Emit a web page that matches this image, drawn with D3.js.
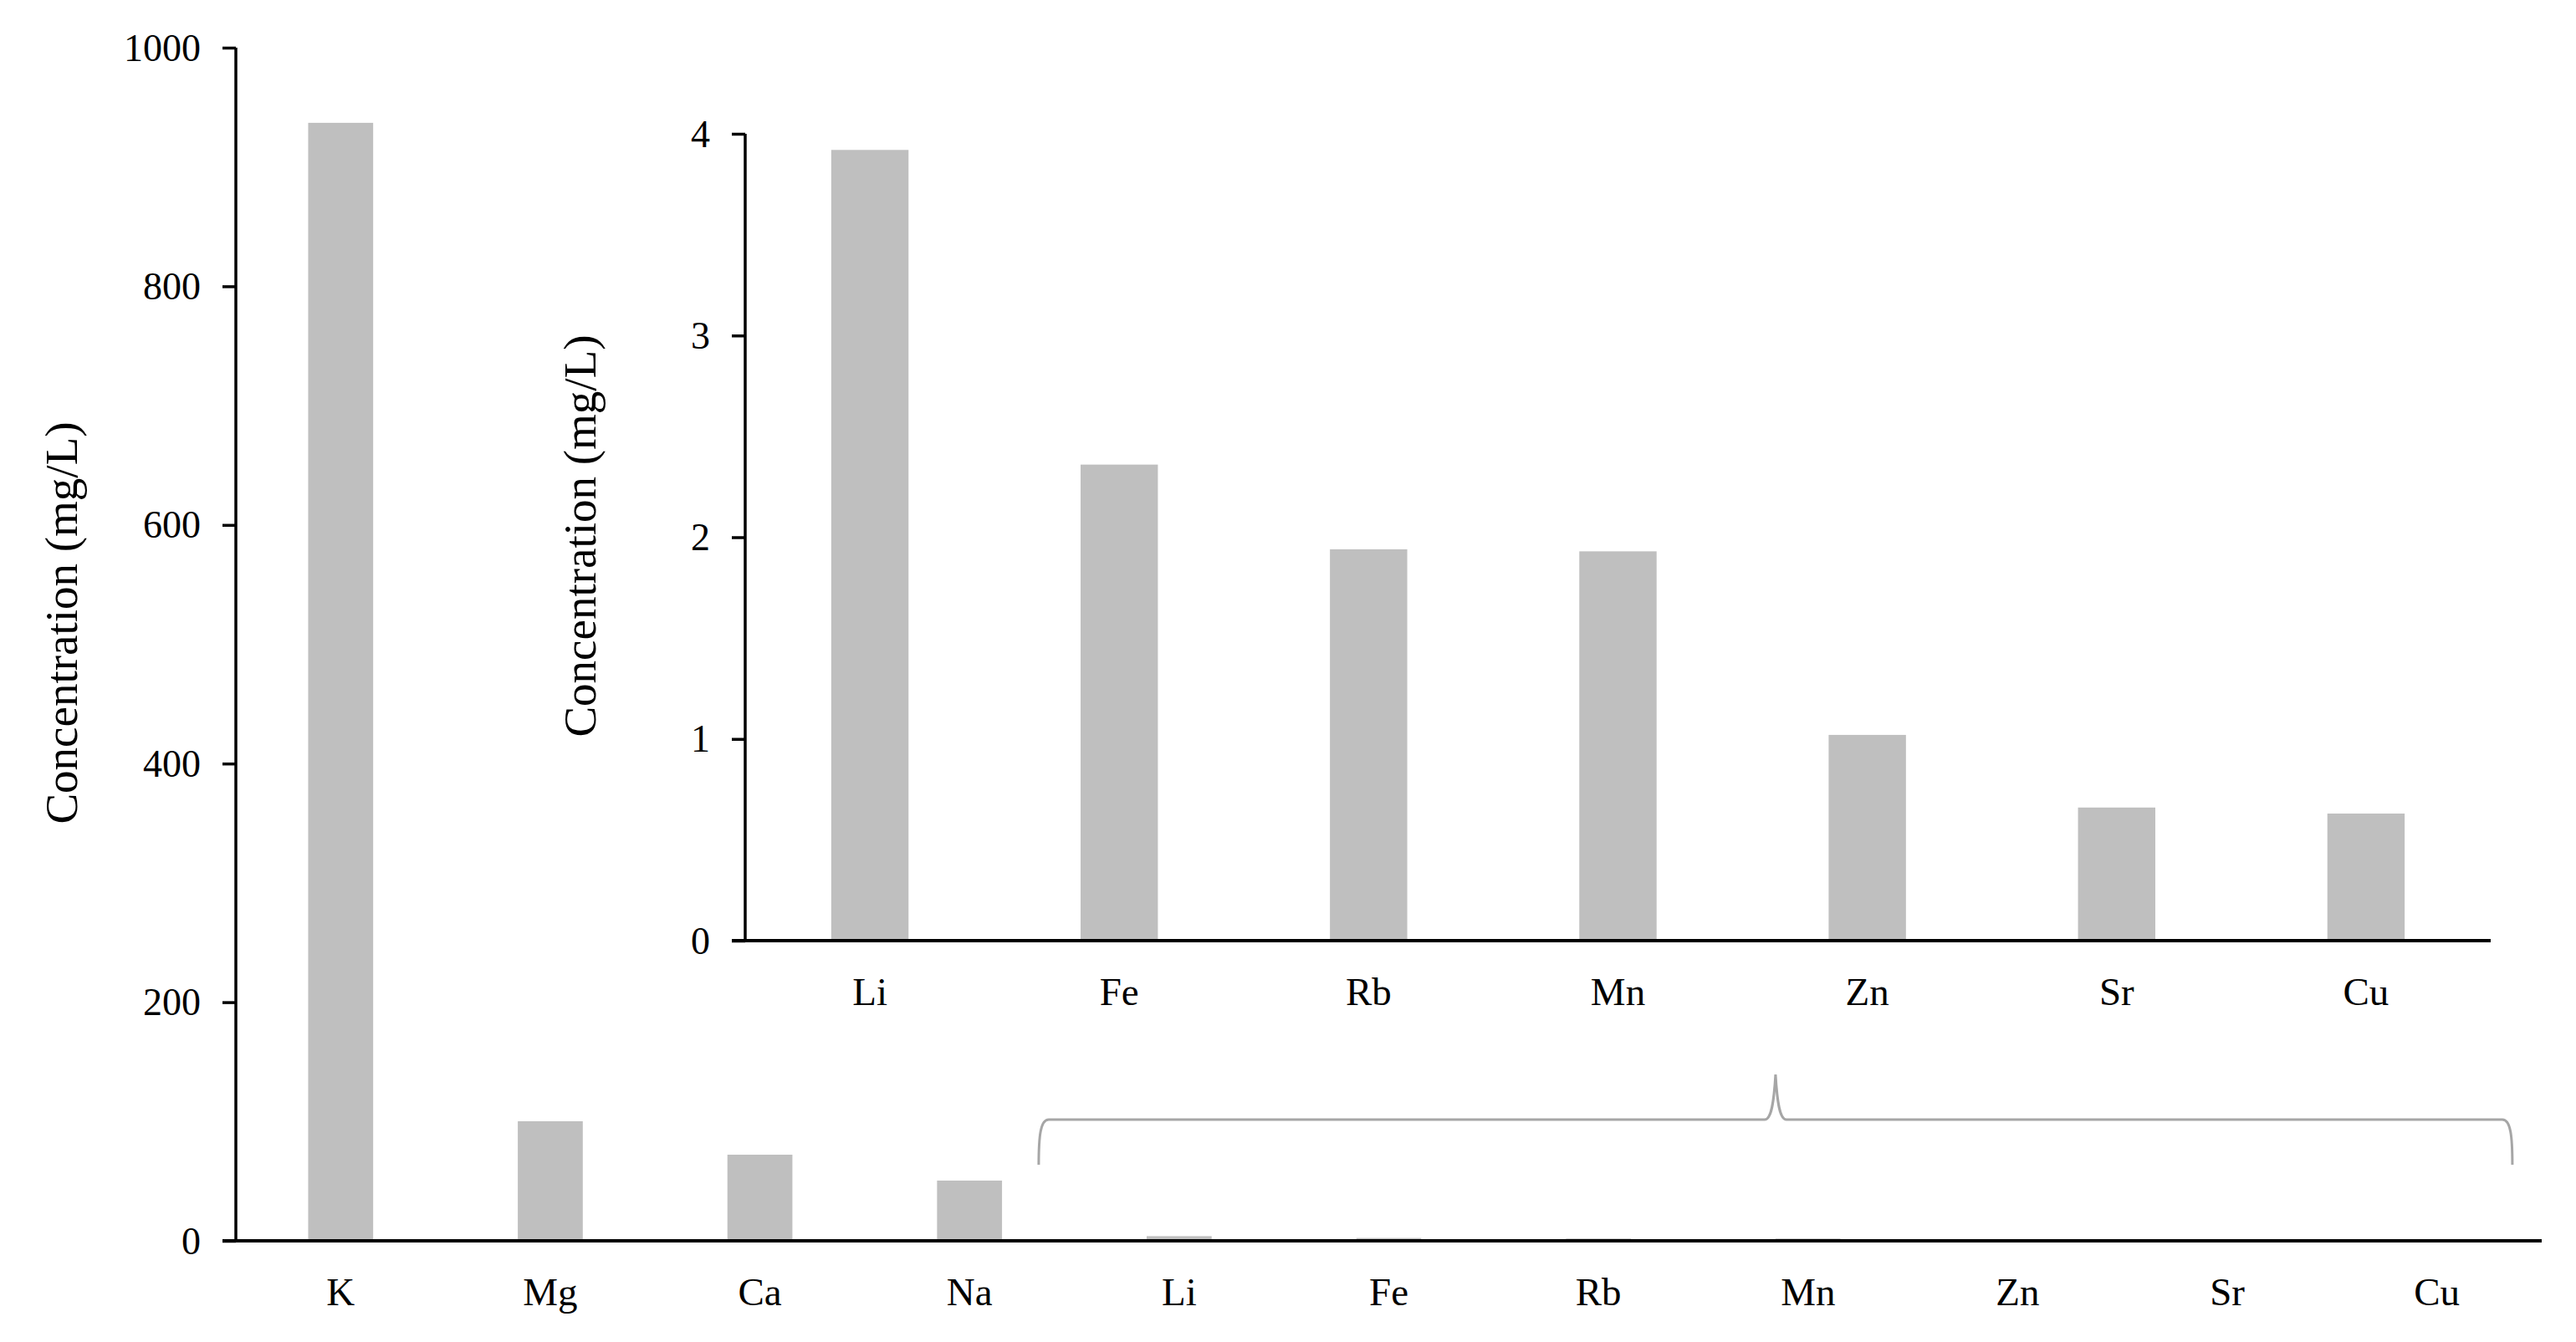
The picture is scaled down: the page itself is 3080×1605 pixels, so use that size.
<!DOCTYPE html>
<html>
<head>
<meta charset="utf-8">
<script src="https://cdn.jsdelivr.net/npm/d3@7"></script>
<style>
  body { margin: 0; background: #fff; }
  text { font-family: "Liberation Serif", "Times New Roman", serif; fill: #000; }
  .axis path, .axis line { stroke: #000; }
  .bar { fill: #bfbfbf; }
  .brace { fill: none; stroke: #a6a6a6; stroke-width: 3; }
</style>
</head>
<body>
<div id="chart"></div>
<script>
// major elements (mg/L)
var mainElements = ["K", "Mg", "Ca", "Na", "Li", "Fe", "Rb", "Mn", "Zn", "Sr", "Cu"];
var mainValues = [937, 100.2, 72.2, 50.5, 3.92, 2.36, 1.94, 1.93, 1.02, 0.66, 0.63];
var mainTicks = [0, 200, 400, 600, 800, 1000];

// trace elements shown in the inset (mg/L)
var insetElements = ["Li", "Fe", "Rb", "Mn", "Zn", "Sr", "Cu"];
var insetValues = [3.92, 2.36, 1.94, 1.93, 1.02, 0.66, 0.63];
var insetTicks = [0, 1, 2, 3, 4];

var yLabel = "Concentration (mg/L)";

var W = 3080, H = 1605;

var svg = d3.select("#chart").append("svg")
    .attr("width", W)
    .attr("height", H);

/* draw one bar panel; geometry in absolute page pixels */
function drawPanel(geom, cats, vals, ticks, domainMax) {
  var x = d3.scaleBand().domain(cats)
      .range([geom.x0, geom.x1])
      .paddingInner(0.69).paddingOuter(0.345);
  var y = d3.scaleLinear().domain([0, domainMax]).range([geom.y0, geom.y1]);

  var data = cats.map(function(c, i) { return {name: c, v: vals[i]}; });

  svg.append("g").selectAll("rect")
      .data(data)
    .enter().append("rect")
      .attr("class", "bar")
      .attr("x", function(d) { return x(d.name); })
      .attr("width", x.bandwidth())
      .attr("y", function(d) { return y(d.v); })
      .attr("height", function(d) { return geom.y0 - y(d.v); });

  var yAxis = d3.axisLeft(y).tickValues(ticks).tickSize(16).tickPadding(26)
      .tickFormat(d3.format("d"));
  var gY = svg.append("g")
      .attr("class", "axis")
      .attr("transform", "translate(" + geom.x0 + ",0)")
      .call(yAxis);
  gY.select(".domain").attr("stroke-width", 3.5).attr("d",
      "M0," + y(domainMax) + "V" + geom.y0);
  gY.selectAll(".tick line").attr("stroke-width", 3.5);
  gY.selectAll(".tick text")
      .attr("font-size", 46)
      .attr("dy", "0.33em");

  var xAxis = d3.axisBottom(x).tickSize(0).tickPadding(geom.labelPad);
  var gX = svg.append("g")
      .attr("class", "axis")
      .attr("transform", "translate(0," + geom.y0 + ")")
      .call(xAxis);
  gX.select(".domain").attr("stroke-width", 4)
      .attr("d", "M" + (geom.x0 - 16) + ",0H" + geom.x1);
  gX.selectAll(".tick text")
      .attr("font-size", 47)
      .attr("dy", "0.71em");

  svg.append("text")
      .attr("transform", "translate(" + geom.labelX + "," + geom.labelY + ") rotate(-90)")
      .attr("text-anchor", "middle")
      .attr("font-size", 55)
      .text(yLabel);

  return {x: x, y: y};
}

var main = drawPanel({x0: 282, x1: 3039, y0: 1484, y1: 57, labelPad: 44,
                      labelX: 92, labelY: 745},
                     mainElements, mainValues, mainTicks, 1000);

var inset = drawPanel({x0: 891, x1: 2978, y0: 1125, y1: 160, labelPad: 44,
                       labelX: 712, labelY: 641},
                      insetElements, insetValues, insetTicks, 4);

// curly brace over the trace elements in the main panel
function centre(s, c) { return s(c) + s.bandwidth() / 2; }
var bx0 = centre(main.x, "Li") - main.x.step() * 0.67,
    bx1 = centre(main.x, "Cu") + main.x.step() * 0.36,
    bm = (bx0 + bx1) / 2,
    by = 1339, bBot = 1393, bTip = 1285;

var brace = d3.path();
brace.moveTo(bx0, bBot);
brace.bezierCurveTo(bx0, by + 20, bx0 + 2, by, bx0 + 12, by);
brace.lineTo(bm - 13, by);
brace.bezierCurveTo(bm - 5, by, bm - 2, by - 20, bm, bTip);
brace.bezierCurveTo(bm + 2, by - 20, bm + 5, by, bm + 13, by);
brace.lineTo(bx1 - 12, by);
brace.bezierCurveTo(bx1 - 2, by, bx1, by + 20, bx1, bBot);

svg.append("path")
    .attr("class", "brace")
    .attr("d", brace.toString());
</script>
</body>
</html>
